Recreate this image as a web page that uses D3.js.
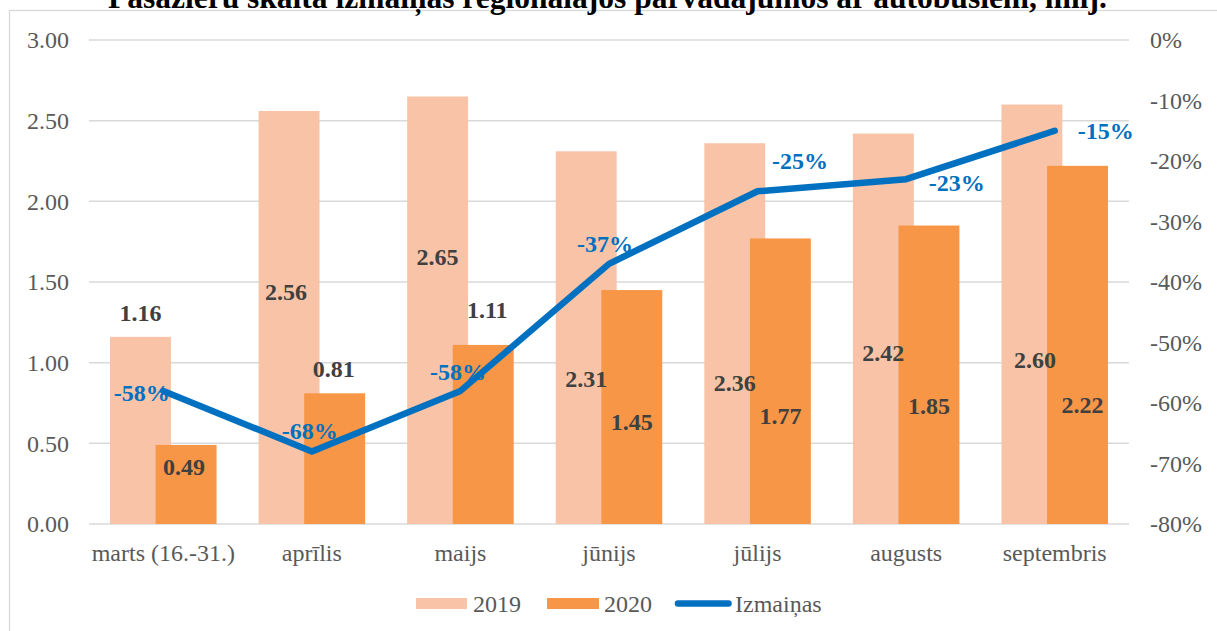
<!DOCTYPE html>
<html><head><meta charset="utf-8">
<script src="https://cdn.jsdelivr.net/npm/d3@7"></script>
<style>body{margin:0;background:#fff} svg{display:block}</style>
</head><body><svg id="c" width="1217" height="631"></svg>
<script>
// ---- data ----
const title = "Pasažieru skaita izmaiņas reģionālajos pārvadājumos ar autobusiem, milj.";
const categories = ["marts (16.-31.)","aprīlis","maijs","jūnijs","jūlijs","augusts","septembris"];
const values2019 = [1.16,2.56,2.65,2.31,2.36,2.42,2.60];
const values2020 = [0.49,0.81,1.11,1.45,1.77,1.85,2.22];
const changePct = [-58,-68,-58,-37,-25,-23,-15];
const leftTicks = [0,0.5,1,1.5,2,2.5,3];
const rightTicks = [0,-10,-20,-30,-40,-50,-60,-70,-80];
const seriesNames = ["2019","2020","Izmaiņas"];

// ---- layout (manually placed label anchors, in axis units / px offsets) ----
const lab2019Y = [1.308,1.44,1.657,0.899,0.876,1.06,1.017];
const lab2019Dx = [0,-3,0,0,0,0,3];
const lab2020Y = [0.355,0.961,1.326,0.634,0.669,0.731,0.738];
const lab2020Dx = [-2,-1,4,0,0,0,5];
const labPctY = [-58.3,-64.5,-54.8,-33.7,-20,-23.6,-14.9];
const labPctDx = [-21.6,-2,-2.4,-4,42.4,50.6,51];

const C2019 = "#F8C3A6", C2020 = "#F79646", CLINE = "#0070C0";
const SERIF = "'Liberation Serif','Times New Roman',serif";

const svg = d3.select("#c");
svg.append("rect").attr("x",9.5).attr("y",10.5).attr("width",1220).attr("height",640)
  .attr("fill","#fff").attr("stroke","#D9D9D9").attr("stroke-width",1.3);

svg.append("text").attr("x",607.5).attr("y",8).attr("text-anchor","middle")
  .attr("font-family",SERIF).attr("font-weight","bold").attr("font-size",31.5)
  .attr("fill","#000").text(title);

const x = d3.scaleBand().domain(categories).range([89,1129]).padding(0);
const y = d3.scaleLinear().domain([0,3]).range([524,40]);
const y2 = d3.scaleLinear().domain([-80,0]).range([524,40]);
const bw = x.bandwidth();
const barW = bw*0.41, off = bw*0.1535;
const cx = (i) => x(categories[i]) + bw/2;

// gridlines
svg.append("g").selectAll("line").data(leftTicks).join("line")
  .attr("x1",89).attr("x2",1129).attr("y1",d=>y(d)).attr("y2",d=>y(d))
  .attr("stroke","#D9D9D9").attr("stroke-width",1.5);

// axes
const axL = svg.append("g").attr("transform","translate(89,0)")
  .call(d3.axisLeft(y).tickValues(leftTicks).tickFormat(d3.format(".2f")).tickSize(0).tickPadding(20));
const axR = svg.append("g").attr("transform","translate(1129,0)")
  .call(d3.axisRight(y2).tickValues(rightTicks).tickFormat(d=>`${d}%`).tickSize(0).tickPadding(21));
const axB = svg.append("g").attr("transform","translate(0,524)")
  .call(d3.axisBottom(x).tickSize(0).tickPadding(20));
[axL,axR,axB].forEach(g=>{
  g.select(".domain").remove();
  g.selectAll("text").attr("font-family",SERIF).attr("font-size",24).attr("fill","#595959");
});

// bars
svg.append("g").selectAll("rect").data(values2019).join("rect")
  .attr("x",(d,i)=>cx(i)-off-barW/2).attr("width",barW)
  .attr("y",d=>y(d)).attr("height",d=>y(0)-y(d)).attr("fill",C2019);
svg.append("g").selectAll("rect").data(values2020).join("rect")
  .attr("x",(d,i)=>cx(i)+off-barW/2).attr("width",barW)
  .attr("y",d=>y(d)).attr("height",d=>y(0)-y(d)).attr("fill",C2020);

// line
const line = d3.line().x((d,i)=>cx(i)).y(d=>y2(d));
svg.append("path").datum(changePct).attr("d",line).attr("fill","none")
  .attr("stroke",CLINE).attr("stroke-width",6.5).attr("stroke-linejoin","round").attr("stroke-linecap","round");

// labels
const lbl = (g, data, xf, yf, color) => g.selectAll("text").data(data).join("text")
  .attr("x",xf).attr("y",yf).attr("dy","0.35em").attr("text-anchor","middle")
  .attr("font-family",SERIF).attr("font-weight","bold").attr("font-size",24).attr("fill",color);
lbl(svg.append("g"), values2019, (d,i)=>cx(i)-off+lab2019Dx[i], (d,i)=>y(lab2019Y[i]), "#404040")
  .text(d=>d3.format(".2f")(d));
lbl(svg.append("g"), values2020, (d,i)=>cx(i)+off+lab2020Dx[i], (d,i)=>y(lab2020Y[i]), "#404040")
  .text(d=>d3.format(".2f")(d));
lbl(svg.append("g"), changePct, (d,i)=>cx(i)+labPctDx[i], (d,i)=>y2(labPctY[i]), CLINE)
  .text(d=>`${d}%`);

// legend
const lg = svg.append("g").attr("font-family",SERIF).attr("font-size",24).attr("fill","#595959");
lg.append("rect").attr("x",416).attr("y",598).attr("width",51).attr("height",11).attr("fill",C2019);
lg.append("text").attr("x",473).attr("y",611.5).text(seriesNames[0]);
lg.append("rect").attr("x",547).attr("y",598).attr("width",52).attr("height",11).attr("fill",C2020);
lg.append("text").attr("x",604).attr("y",611.5).text(seriesNames[1]);
lg.append("line").attr("x1",678).attr("x2",728.5).attr("y1",603.5).attr("y2",603.5)
  .attr("stroke",CLINE).attr("stroke-width",6.5).attr("stroke-linecap","round");
lg.append("text").attr("x",735).attr("y",611.5).text(seriesNames[2]);
</script></body></html>
